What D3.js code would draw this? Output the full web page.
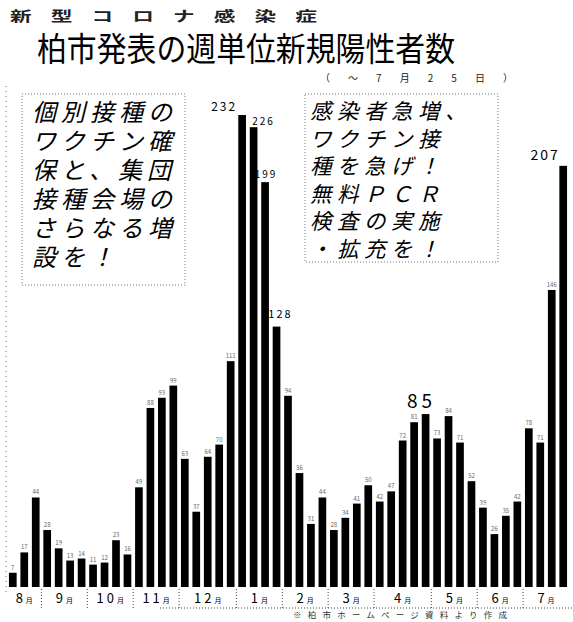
<!DOCTYPE html>
<html>
<head>
<meta charset="utf-8">
<script src="https://cdn.jsdelivr.net/npm/d3@7"></script>
<style>
  body { margin: 0; background: #fff; }
  svg text { font-family: "Noto Sans CJK JP", "Noto Sans", sans-serif; }
</style>
</head>
<body>
<svg id="chart"></svg>
<script>
// weekly new positive cases, Kashiwa city
const cases = [7, 17, 44, 28, 19, 13, 14, 11, 12, 23, 16, 49, 88, 93, 99, 63, 37, 64, 70, 111,
               232, 226, 199, 128, 94, 56, 31, 44, 28, 34, 41, 50, 42, 47, 72, 81, 85, 73, 84, 71,
               52, 39, 26, 35, 42, 78, 71, 146, 207];
// month labels and how many weeks each one spans
const months = ["8", "9", "10", "11", "12", "1", "2", "3", "4", "5", "6", "7"];
const monthWeeks = [3, 4, 4, 4, 5, 4, 4, 4, 5, 4, 4, 4];
// weeks whose value is printed large
const bigLabels = [20, 21, 22, 23, 36, 48];

const leftNote = ["個別接種の", "ワクチン確", "保と、集団", "接種会場の", "さらなる増", "設を！"];
const rightNote = ["感染者急増、", "ワクチン接", "種を急げ！", "無料ＰＣＲ", "検査の実施", "・拡充を！"];

class WeeklyBars {
    constructor(_config, _data) {
        this.config = {
            parentElement: _config.parentElement,
            containerWidth: _config.containerWidth || 573,
            containerHeight: _config.containerHeight || 622
        };
        this.data = _data;
        this.initVis();
    }

    initVis() {
        let vis = this;

        vis.svg = d3.select(vis.config.parentElement)
            .attr('width', vis.config.containerWidth)
            .attr('height', vis.config.containerHeight);

        vis.xScale = d3.scaleBand()
            .domain(d3.range(vis.data.length))
            .range([7, 569])
            .paddingInner(0.33)
            .paddingOuter(0.17);

        vis.yScale = d3.scaleLinear()
            .domain([0, 232])
            .range([587, 115]);

        vis.renderTitles();
        vis.renderNotes();
        vis.renderBars();
        vis.renderAxis();
    }

    renderTitles() {
        let vis = this;

        // small header, stretched wide like the print
        vis.svg.append('text')
            .attr('transform', 'translate(10,21) scale(1.55,1)')
            .attr('font-size', 14)
            .attr('font-weight', 700)
            .attr('fill', '#222')
            .attr('letter-spacing', 12.3)
            .text('新型コロナ感染症');

        vis.svg.append('text')
            .attr('x', 37)
            .attr('y', 61)
            .attr('font-size', 33)
            .attr('textLength', 418)
            .attr('lengthAdjust', 'spacingAndGlyphs')
            .text('柏市発表の週単位新規陽性者数');

        vis.svg.append('text')
            .attr('x', 320)
            .attr('y', 82)
            .attr('font-size', 10)
            .attr('textLength', 193)
            .attr('lengthAdjust', 'spacing')
            .attr('fill', '#222')
            .text('（～7月25日）');

        // dotted scan edge on the left
        vis.svg.append('line')
            .attr('x1', 6).attr('x2', 6)
            .attr('y1', 86).attr('y2', 592)
            .attr('stroke', '#777')
            .attr('stroke-dasharray', '1,4');
    }

    renderNotes() {
        let vis = this;

        const boxes = [
            {lines: leftNote, x: 22, y: 94, w: 163, h: 191, tx: 32, ty: 121, size: 24, ls: 5, step: 29},
            {lines: rightNote, x: 305, y: 94, w: 193, h: 168, tx: 310, ty: 119, size: 21.5, ls: 5.5, step: 27.5}
        ];

        boxes.forEach(b => {
            vis.svg.append('rect')
                .attr('x', b.x).attr('y', b.y)
                .attr('width', b.w).attr('height', b.h)
                .attr('fill', 'none')
                .attr('stroke', '#555')
                .attr('stroke-width', 0.8)
                .attr('stroke-dasharray', '1,2');

            vis.svg.selectAll(null)
                .data(b.lines)
                .join('text')
                .attr('transform', (d, i) => `translate(${b.tx},${b.ty + i * b.step}) skewX(-14)`)
                .attr('font-size', b.size)
                .attr('letter-spacing', b.ls)
                .text(d => d);
        });
    }

    renderBars() {
        let vis = this;
        let bw = vis.xScale.bandwidth();

        vis.svg.append('g')
            .selectAll('rect')
            .data(vis.data)
            .join('rect')
            .attr('x', (d, i) => vis.xScale(i))
            .attr('y', d => vis.yScale(d))
            .attr('width', bw)
            .attr('height', d => vis.yScale(0) - vis.yScale(d))
            .attr('fill', '#000');

        // tiny value labels
        vis.svg.append('g')
            .selectAll('text')
            .data(vis.data.map((d, i) => ({v: d, i: i})).filter(d => !bigLabels.includes(d.i)))
            .join('text')
            .attr('x', d => vis.xScale(d.i) + bw / 2)
            .attr('y', d => vis.yScale(d.v) - 3)
            .attr('text-anchor', 'middle')
            .attr('font-size', 6)
            .attr('fill', '#666')
            .text(d => d.v);

        // big value labels, nudged where they would collide
        const big = {
            20: {size: 12, dx: -18, dy: -4},
            21: {size: 10, dx: 10, dy: -2},
            22: {size: 10, dx: 1, dy: -4},
            23: {size: 11, dx: 4, dy: -9},
            36: {size: 19, dx: -4, dy: -6},
            48: {size: 14, dx: -18, dy: -6}
        };

        vis.svg.append('g')
            .selectAll('text')
            .data(bigLabels)
            .join('text')
            .attr('x', i => vis.xScale(i) + bw / 2 + big[i].dx)
            .attr('y', i => vis.yScale(vis.data[i]) + big[i].dy)
            .attr('text-anchor', 'middle')
            .attr('font-size', i => big[i].size)
            .attr('letter-spacing', i => big[i].size > 15 ? 4 : 2)
            .attr('font-family', 'DejaVu Sans Mono, monospace')
            .text(i => vis.data[i]);
    }

    renderAxis() {
        let vis = this;
        let step = vis.xScale.step();

        // start week of every month
        let starts = [];
        let acc = 0;
        monthWeeks.forEach(n => { starts.push(acc); acc += n; });

        let axis = vis.svg.append('g');

        axis.selectAll('line.sep')
            .data(starts.slice(1))
            .join('line')
            .attr('class', 'sep')
            .attr('x1', i => vis.xScale(i) - (step - vis.xScale.bandwidth()) / 2)
            .attr('x2', i => vis.xScale(i) - (step - vis.xScale.bandwidth()) / 2)
            .attr('y1', 589).attr('y2', 608)
            .attr('stroke', '#444')
            .attr('stroke-dasharray', '1,2');

        axis.append('line')
            .attr('x1', 160).attr('x2', 573)
            .attr('y1', 608).attr('y2', 608)
            .attr('stroke', '#444')
            .attr('stroke-dasharray', '1,2');

        let labels = axis.selectAll('text')
            .data(months)
            .join('text')
            .attr('x', (m, k) => (vis.xScale(starts[k]) + vis.xScale(starts[k] + monthWeeks[k] - 1) + vis.xScale.bandwidth()) / 2)
            .attr('y', 603)
            .attr('text-anchor', 'middle')
            .attr('font-family', 'DejaVu Sans, sans-serif');

        labels.append('tspan')
            .attr('font-size', 13)
            .attr('letter-spacing', 3)
            .text(m => m);
        labels.append('tspan')
            .attr('font-size', 7)
            .attr('font-family', 'Noto Sans CJK JP')
            .text('月');

        vis.svg.append('text')
            .attr('x', 293)
            .attr('y', 618)
            .attr('font-size', 8.5)
            .attr('textLength', 214)
            .attr('lengthAdjust', 'spacing')
            .attr('fill', '#333')
            .text('※柏市ホームページ資料より作成');
    }
}

new WeeklyBars({parentElement: '#chart'}, cases);
</script>
</body>
</html>
